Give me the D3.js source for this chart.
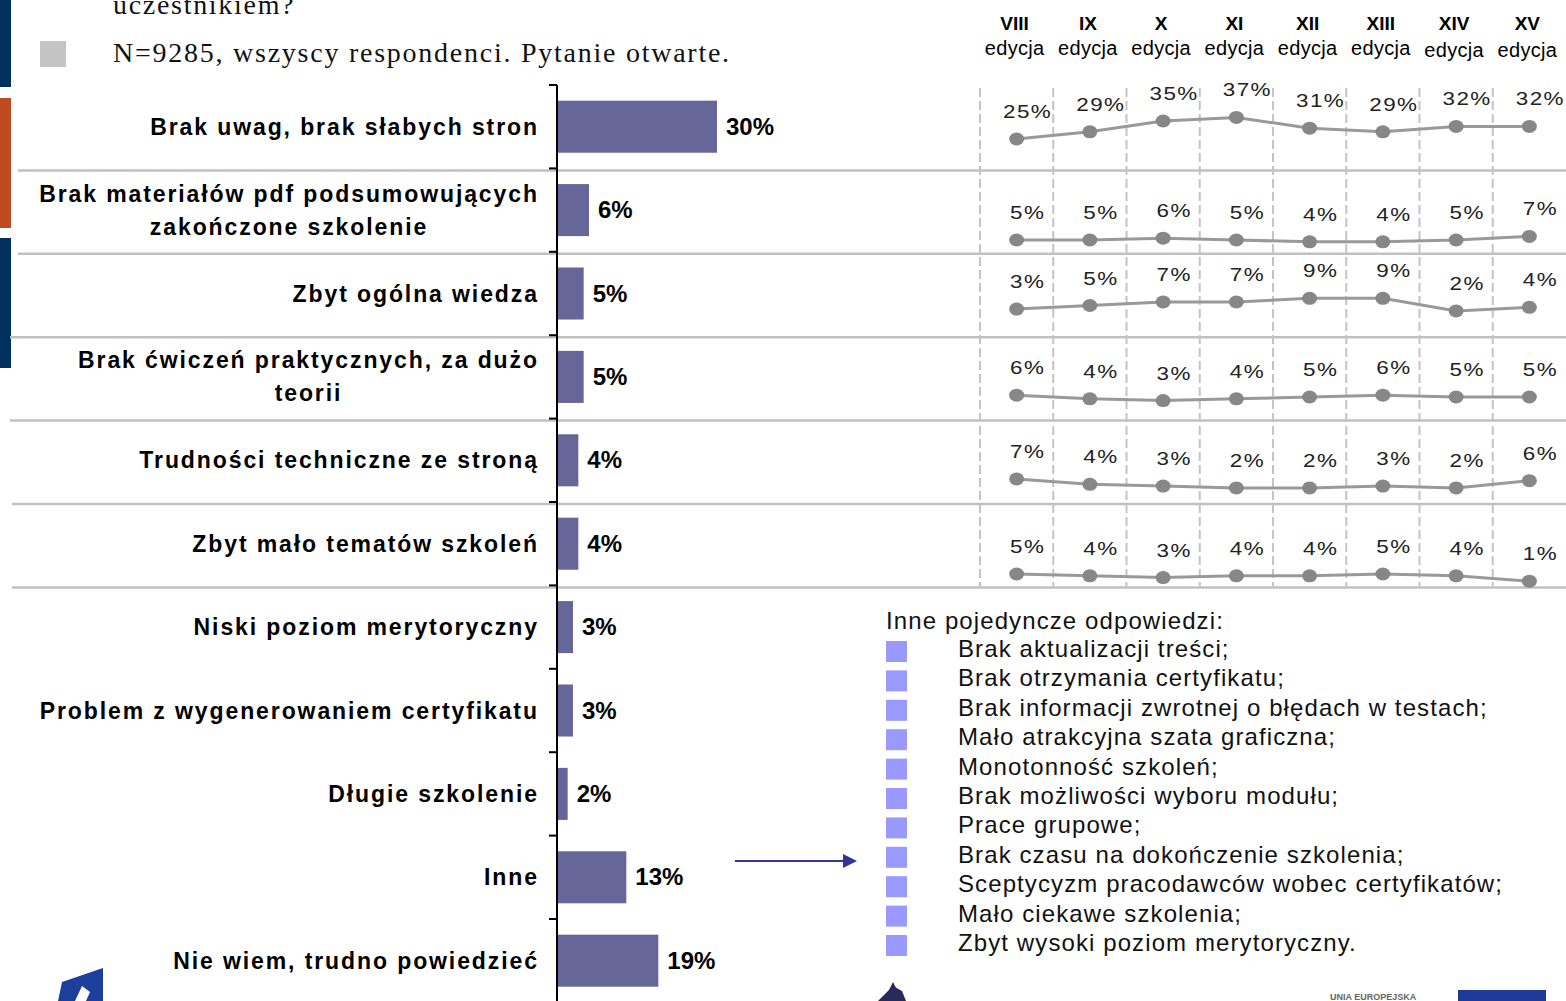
<!DOCTYPE html>
<html>
<head>
<meta charset="utf-8">
<script src="https://cdn.jsdelivr.net/npm/d3@7"></script>
<style>
  html, body { margin: 0; padding: 0; background: #fff; }
  svg { display: block; }
</style>
</head>
<body>
<svg id="chart" width="1566" height="1001"></svg>
<script>
// ---- data ----
const categoryLines = [
  ["Brak uwag, brak słabych stron"],
  ["Brak materiałów pdf podsumowujących", "zakończone szkolenie"],
  ["Zbyt ogólna wiedza"],
  ["Brak ćwiczeń praktycznych, za dużo", "teorii"],
  ["Trudności techniczne ze stroną"],
  ["Zbyt mało tematów szkoleń"],
  ["Niski poziom merytoryczny"],
  ["Problem z wygenerowaniem certyfikatu"],
  ["Długie szkolenie"],
  ["Inne"],
  ["Nie wiem, trudno powiedzieć"]
];
const shares = [30, 6, 5, 5, 4, 4, 3, 3, 2, 13, 19];

const editions = ["VIII", "IX", "X", "XI", "XII", "XIII", "XIV", "XV"];
const trendNoRemarks   = [25, 29, 35, 37, 31, 29, 32, 32];
const trendNoPdf       = [5, 5, 6, 5, 4, 4, 5, 7];
const trendTooGeneral  = [3, 5, 7, 7, 9, 9, 2, 4];
const trendNoPractice  = [6, 4, 3, 4, 5, 6, 5, 5];
const trendTechnical   = [7, 4, 3, 2, 2, 3, 2, 6];
const trendFewTopics   = [5, 4, 3, 4, 4, 5, 4, 1];

const otherHeading = "Inne pojedyncze odpowiedzi:";
const otherAnswers = [
  "Brak aktualizacji treści;",
  "Brak otrzymania certyfikatu;",
  "Brak informacji zwrotnej o błędach w testach;",
  "Mało atrakcyjna szata graficzna;",
  "Monotonność szkoleń;",
  "Brak możliwości wyboru modułu;",
  "Prace grupowe;",
  "Brak czasu na dokończenie szkolenia;",
  "Sceptycyzm pracodawców wobec certyfikatów;",
  "Mało ciekawe szkolenia;",
  "Zbyt wysoki poziom merytoryczny."
];

// ---- drawing ----
const svg = d3.select("#chart");
const sans = "'Liberation Sans', Arial, sans-serif";
const serif = "'Liberation Serif', 'Times New Roman', serif";
const barColor = "#666699";
const sepColor = "#c0c0c0";

// left edge colour strips
[[0, 87, "#003060"], [98, 228, "#c04a20"], [238, 368, "#003060"]].forEach(([a, b, c]) => {
  svg.append("rect").attr("x", 0).attr("y", a).attr("width", 11).attr("height", b - a).attr("fill", c);
});

// header text (first line continues from the slide above)
svg.append("text").attr("x", 113).attr("y", 14)
  .attr("font-family", serif).attr("font-size", 28).attr("fill", "#111")
  .style("letter-spacing", "1.7px")
  .text("uczestnikiem?");
svg.append("rect").attr("x", 40).attr("y", 41).attr("width", 26).attr("height", 26).attr("fill", "#c4c4c4");
svg.append("text").attr("x", 113).attr("y", 62)
  .attr("font-family", serif).attr("font-size", 28).attr("fill", "#111")
  .style("letter-spacing", "1.75px")
  .text("N=9285, wszyscy respondenci. Pytanie otwarte.");

// bar chart scales
const axisX = 557;
const y = d3.scaleBand()
  .domain(d3.range(categoryLines.length))
  .range([85, 1002.4])
  .paddingInner(0.376)
  .paddingOuter(0.188);
const x = d3.scaleLinear().domain([0, 30]).range([axisX, axisX + 160]);

// row separators for the first six categories (span the trend panel too)
const sepStarts = [18, 18, 10, 10, 12, 12];
const trendRowsCount = 6;
for (let i = 1; i <= trendRowsCount; i++) {
  const yy = 85 + i * y.step() + 2;
  svg.append("line")
    .attr("x1", sepStarts[i - 1]).attr("x2", 1566)
    .attr("y1", yy).attr("y2", yy)
    .attr("stroke", sepColor).attr("stroke-width", 2.5);
}

// bars
svg.append("g").selectAll("rect").data(shares).join("rect")
  .attr("x", axisX)
  .attr("y", (d, i) => y(i))
  .attr("width", d => x(d) - axisX)
  .attr("height", y.bandwidth())
  .attr("fill", barColor);

// bar value labels
svg.append("g").selectAll("text").data(shares).join("text")
  .attr("x", d => x(d) + 9)
  .attr("y", (d, i) => y(i) + y.bandwidth() / 2 + 8)
  .attr("font-family", sans).attr("font-weight", "bold").attr("font-size", 24)
  .attr("fill", "#000")
  .text(d => d + "%");

// category axis line with tick marks at band boundaries
svg.append("line").attr("x1", axisX).attr("x2", axisX).attr("y1", 85).attr("y2", 1001)
  .attr("stroke", "#000").attr("stroke-width", 2);
svg.append("g").selectAll("line").data(d3.range(categoryLines.length + 1)).join("line")
  .attr("x1", axisX - 8).attr("x2", axisX)
  .attr("y1", i => 85 + i * y.step()).attr("y2", i => 85 + i * y.step())
  .attr("stroke", "#000").attr("stroke-width", 2);

// category labels (multi-line labels centred on their longest line)
const labelRight = 537;
categoryLines.forEach((lines, i) => {
  const g = svg.append("g");
  const lh = 33;
  const cy = y(i) + y.bandwidth() / 2;
  const texts = lines.map((t, k) => g.append("text")
    .attr("y", cy + (k - (lines.length - 1) / 2) * lh + 8)
    .attr("font-family", sans).attr("font-weight", "bold").attr("font-size", 23)
    .style("letter-spacing", "1.9px")
    .attr("fill", "#000")
    .text(t));
  if (lines.length === 1) {
    texts[0].attr("x", labelRight + 1.9).attr("text-anchor", "end");
  } else {
    const w = d3.max(texts, t => t.node().getComputedTextLength());
    texts.forEach(t => t.attr("x", labelRight + 1.9 - w / 2).attr("text-anchor", "middle"));
  }
});

// ---- trend panel (one mini line chart per category row) ----
const ex = d3.scaleBand().domain(editions).range([980, 1566]);
const colX = e => ex(e) + ex.bandwidth() / 2;

// edition headers
svg.append("g").selectAll("text").data(editions).join("text")
  .attr("x", e => colX(e) - 2).attr("y", 30).attr("text-anchor", "middle")
  .attr("font-family", sans).attr("font-weight", "bold").attr("font-size", 19)
  .text(e => e);
svg.append("g").selectAll("text").data(editions).join("text")
  .attr("x", e => colX(e) - 2).attr("y", (e, i) => i >= 6 ? 57 : 55).attr("text-anchor", "middle")
  .attr("font-family", sans).attr("font-size", 20)
  .style("letter-spacing", "0.3px")
  .text("edycja");

// dashed column dividers
svg.append("g").selectAll("line").data(editions).join("line")
  .attr("x1", e => ex(e)).attr("x2", e => ex(e))
  .attr("y1", 88).attr("y2", 586)
  .attr("stroke", "#c4c4c4").attr("stroke-width", 2)
  .attr("stroke-dasharray", "9,4");

const trends = [trendNoRemarks, trendNoPdf, trendTooGeneral, trendNoPractice, trendTechnical, trendFewTopics];
// zero level of each mini chart and a shared vertical scale (px per percentage point)
const rowZero = [184, 249, 314.5, 406, 491.5, 583];
const pxPerPoint = 1.8;

trends.forEach((vals, r) => {
  const ty = d3.scaleLinear().domain([0, 10]).range([rowZero[r], rowZero[r] - 10 * pxPerPoint]);
  const pts = vals.map((v, i) => ({ e: editions[i], v }));
  const g = svg.append("g");
  g.append("path").datum(pts)
    .attr("fill", "none").attr("stroke", "#999").attr("stroke-width", 3)
    .attr("d", d3.line().x(d => colX(d.e)).y(d => ty(d.v)));
  g.selectAll("ellipse").data(pts).join("ellipse")
    .attr("cx", d => colX(d.e)).attr("cy", d => ty(d.v))
    .attr("rx", 7.5).attr("ry", 6.5).attr("fill", "#878787");
  g.selectAll("text").data(pts).join("text")
    .attr("transform", d => `translate(${colX(d.e) + 11},${ty(d.v) - 21}) scale(1.18,1)`)
    .attr("text-anchor", "middle")
    .attr("font-family", sans).attr("font-size", 19)
    .style("letter-spacing", "1.2px")
    .attr("fill", "#222")
    .text(d => d.v + "%");
});

// ---- other single answers ----
svg.append("text").attr("x", 886).attr("y", 629)
  .attr("font-family", sans).attr("font-size", 24).attr("fill", "#111")
  .style("letter-spacing", "1.1px")
  .text(otherHeading);
const list = svg.append("g").selectAll("g").data(otherAnswers).join("g")
  .attr("transform", (d, i) => `translate(0, ${657 + i * 29.4})`);
list.append("rect").attr("x", 886).attr("y", -16).attr("width", 21).attr("height", 21).attr("fill", "#9999ff");
list.append("text").attr("x", 958).attr("y", 0)
  .attr("font-family", sans).attr("font-size", 24).attr("fill", "#111")
  .style("letter-spacing", "1.1px")
  .text(d => d);

// arrow from "Inne" to the list
svg.append("line").attr("x1", 735).attr("x2", 845).attr("y1", 861).attr("y2", 861)
  .attr("stroke", "#333399").attr("stroke-width", 2);
svg.append("path").attr("d", "M843,854 L857,861 L843,868 Z").attr("fill", "#333399");

// footer logos
svg.append("path").attr("d", "M58,1001 L62,982 L103,968 L103,1001 Z").attr("fill", "#1c3f9c");
svg.append("path").attr("d", "M75,1001 L82,986 L90,992 L86,1001 Z").attr("fill", "#fff");
svg.append("path").attr("d", "M878,1001 L893,986 L902,991 L906,1001 Z").attr("fill", "#2a2a5a");
svg.append("path").attr("d", "M888,992 L893,982 L898,992 Z").attr("fill", "#2a2a5a");
svg.append("text").attr("x", 1330).attr("y", 1000)
  .attr("font-family", sans).attr("font-weight", "bold").attr("font-size", 9).attr("fill", "#666")
  .text("UNIA EUROPEJSKA");
svg.append("rect").attr("x", 1458).attr("y", 990).attr("width", 88).attr("height", 11).attr("fill", "#1f3a9a");
</script>
</body>
</html>
